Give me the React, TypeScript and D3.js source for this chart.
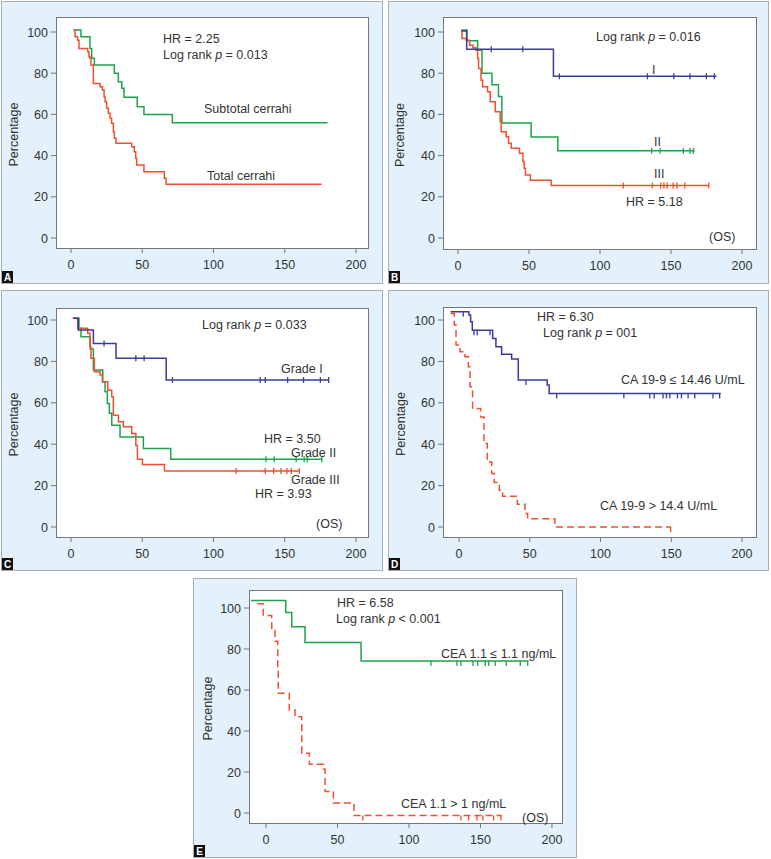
import * as d3 from "d3";

type Pt = [number, number];

const xTicks = [0, 50, 100, 150, 200];
const yTicks = [0, 20, 40, 60, 80, 100];

// A: subtotal vs total resection
const aSubtotal: Pt[] = [[2, 101], [7, 97.7], [13.3, 92], [14.5, 87.2], [16.4, 84], [30.4, 80], [33.2, 75.9], [35.6, 72.7], [37.2, 68.3], [46.5, 63.7], [51.2, 60], [71.1, 56], [180, 56]];
const aTotal: Pt[] = [[1.6, 101], [2.8, 97.7], [4.7, 96], [5.6, 92], [11.7, 90.4], [12.6, 88], [13.3, 87.2], [14, 84], [15.7, 75], [20.4, 73.4], [22, 71.8], [23.2, 68.6], [23.9, 66.2], [25, 63], [26.2, 60.5], [27.4, 58.1], [28.5, 55.7], [29.7, 51.6], [30.4, 48.4], [31.6, 46], [42.6, 44.3], [44.4, 41.9], [45.4, 38.7], [46.1, 35.4], [51.2, 32.2], [65.5, 29], [66.7, 26.1], [176, 26.1]];

// B: stage I / II / III
const bStageI: Pt[] = [[2.3, 100.5], [6.1, 91.6], [67.2, 78.5], [182, 78.5]];
const bStageICens = [23.4, 45.6, 71.4, 133.4, 152, 163.4, 174.9, 180.5];
const bStageII: Pt[] = [[2.3, 101], [6.3, 95.8], [13.8, 91.1], [16.9, 80], [23.9, 74.4], [28.5, 68.7], [30.9, 55.8], [51.5, 49], [70.3, 42.3], [166.6, 42.3]];
const bStageIICens = [136.4, 142.3, 158.7, 163.4, 165.8];
const bStageIII: Pt[] = [[2.3, 100.5], [2.8, 96.8], [5.8, 96], [8.2, 93.6], [10.5, 92.3], [12.6, 91.1], [13.8, 87.1], [14.5, 82.3], [16.2, 76.6], [17.3, 73.4], [20.8, 71], [22.7, 66.1], [26.2, 61.3], [29.7, 56.4], [30.4, 51.6], [33.9, 49.2], [35.6, 46], [37.5, 43.6], [43.3, 41.1], [45.7, 37.1], [46.6, 33.9], [47.5, 30.6], [51, 28], [65.6, 25.5], [176.6, 25.5]];
const bStageIIICens = [116.4, 136.8, 142.7, 145, 147.3, 151.5, 154.3, 159.7, 176.6];

// C: grade I / II / III
const cGradeI: Pt[] = [[1.6, 100.8], [5.1, 95.2], [15.7, 88.7], [31.6, 81.5], [66.8, 71], [180.8, 71]];
const cGradeICens = [23.2, 45.5, 51.3, 71.2, 132.8, 136.3, 152, 163.2, 175, 180.8];
const cGradeII: Pt[] = [[1.6, 100.8], [5.6, 96], [7, 91.9], [13.5, 86], [15.7, 75.8], [22.3, 70.2], [23.9, 65.3], [25.5, 59.7], [26.9, 54.9], [28.6, 49.2], [34.4, 43.5], [50.8, 37.9], [70, 32.7], [176, 32.7]];
const cGradeIICens = [136.8, 142.6, 158, 163.6, 165.8, 176];
const cGradeIII: Pt[] = [[1.2, 100.8], [4.7, 96], [11.7, 93.6], [13.3, 87.1], [14, 81.5], [16.4, 75], [20.4, 73.4], [22, 70.2], [25.8, 66.1], [28.6, 62.9], [29.7, 54], [33.3, 50.8], [36.7, 48.4], [42.6, 45.2], [45.5, 39.5], [46.6, 32.7], [50.1, 30.2], [65.6, 27.1], [160.2, 27.1]];
const cGradeIIICens = [115.9, 136.3, 142.2, 147.3, 151.5, 154.6, 160.2];

// D: CA 19-9
const dLow: Pt[] = [[-5.9, 104], [7, 102.4], [8.2, 99.2], [9.4, 95], [23.8, 91.1], [26.1, 87.1], [30.1, 83.4], [37.2, 81.1], [41.9, 71], [62.3, 68.6], [63.7, 64.5], [185, 64.5]];
const dLowCens = [3, 10.6, 12.9, 21.9, 47.3, 69, 116.5, 134.8, 137.9, 144.2, 146.6, 149, 154.4, 157.2, 161.9, 166.6, 179.5, 184.2];
const dHigh: Pt[] = [[-5.9, 103.2], [-3.3, 97.6], [-2.1, 87.9], [0.7, 84.7], [4.2, 82.2], [6.6, 77.4], [7.8, 67.7], [9.6, 57.3], [15.3, 53.2], [17.6, 40.3], [20, 31.4], [23.1, 25.8], [24.9, 21.5], [28.5, 17.8], [30.8, 14.9], [41.2, 11], [46.6, 6.5], [48.5, 4], [67.8, 0], [149.6, 0]];
const dHighCens = [149.6];

// E: CEA
const eLow: Pt[] = [[-10.5, 103.7], [13.8, 97.8], [18, 90.8], [27.3, 83.2], [66.5, 74.2], [183.6, 74.2]];
const eLowCens = [115.3, 133.5, 136.3, 144.7, 148, 153.3, 155.7, 160.3, 168, 177.8, 183];
const eHigh: Pt[] = [[-6.1, 102.1], [-1.9, 96.4], [4, 89.2], [6.3, 83.8], [8.2, 70.5], [8.6, 58.4], [16.3, 50.2], [20.3, 47], [25, 29.2], [30.3, 23.8], [40.1, 21.5], [41.3, 10.5], [47.1, 4.9], [61.6, -1.2], [165, -1.2]];
const eHighCens = [67.7, 136.3, 141.7, 147.5, 151.7, 159.2, 164.3];

const GREEN = "#1da34b";
const RED = "#f0502f";
const BLUE = "#3b3c97";
const FONT = "'Liberation Sans', Arial, sans-serif";

interface Series {
  steps: Pt[];
  cens?: number[];
  color: string;
  dashed?: boolean;
  tick?: "mid" | "down";
}
interface Note {
  x: number;
  y: number;
  text: string;
}
interface Panel {
  id: string;
  box: [number, number, number, number];
  frame: [number, number, number, number];
  xr: [number, number];
  yr: [number, number];
  pctX: number;
  series: Series[];
  notes: Note[];
}

const panels: Panel[] = [
  {
    id: "A", box: [1, 1, 382, 283], frame: [56, 17, 368, 248], xr: [71, 356], yr: [238, 32], pctX: 18,
    series: [
      { steps: aSubtotal, color: GREEN },
      { steps: aTotal, color: RED },
    ],
    notes: [
      { x: 163, y: 43, text: "HR = 2.25" },
      { x: 163, y: 59, text: "Log rank p = 0.013" },
      { x: 204, y: 113, text: "Subtotal cerrahi" },
      { x: 207, y: 180, text: "Total cerrahi" },
    ],
  },
  {
    id: "B", box: [388, 1, 768, 283], frame: [443, 17, 756, 249], xr: [458, 742], yr: [238, 32], pctX: 404,
    series: [
      { steps: bStageII, cens: bStageIICens, color: GREEN, tick: "mid" },
      { steps: bStageIII, cens: bStageIIICens, color: RED, tick: "mid" },
      { steps: bStageI, cens: bStageICens, color: BLUE, tick: "mid" },
    ],
    notes: [
      { x: 596, y: 41, text: "Log rank p = 0.016" },
      { x: 652, y: 74, text: "I" },
      { x: 654, y: 146, text: "II" },
      { x: 654, y: 178, text: "III" },
      { x: 626, y: 206, text: "HR = 5.18" },
      { x: 709, y: 241, text: "(OS)" },
    ],
  },
  {
    id: "C", box: [1, 290, 382, 570], frame: [56, 308, 368, 537], xr: [71, 356], yr: [527, 320], pctX: 18,
    series: [
      { steps: cGradeII, cens: cGradeIICens, color: GREEN, tick: "mid" },
      { steps: cGradeIII, cens: cGradeIIICens, color: RED, tick: "mid" },
      { steps: cGradeI, cens: cGradeICens, color: BLUE, tick: "mid" },
    ],
    notes: [
      { x: 202, y: 329, text: "Log rank p = 0.033" },
      { x: 281, y: 373, text: "Grade I" },
      { x: 264, y: 443, text: "HR = 3.50" },
      { x: 291, y: 457, text: "Grade II" },
      { x: 291, y: 484, text: "Grade III" },
      { x: 255, y: 498, text: "HR = 3.93" },
      { x: 316, y: 528, text: "(OS)" },
    ],
  },
  {
    id: "D", box: [388, 290, 768, 570], frame: [443, 307, 756, 537], xr: [459, 742], yr: [527, 320], pctX: 405,
    series: [
      { steps: dHigh, cens: dHighCens, color: RED, dashed: true, tick: "down" },
      { steps: dLow, cens: dLowCens, color: BLUE, tick: "down" },
    ],
    notes: [
      { x: 537, y: 321, text: "HR = 6.30" },
      { x: 543, y: 337, text: "Log rank p = 001" },
      { x: 621, y: 384, text: "CA 19-9 ≤ 14.46 U/mL" },
      { x: 600, y: 510, text: "CA 19-9 > 14.4 U/mL" },
    ],
  },
  {
    id: "E", box: [193, 578, 576, 857], frame: [249, 590, 562, 823], xr: [266, 552], yr: [813, 608], pctX: 212,
    series: [
      { steps: eHigh, cens: eHighCens, color: RED, dashed: true, tick: "down" },
      { steps: eLow, cens: eLowCens, color: GREEN, tick: "down" },
    ],
    notes: [
      { x: 337, y: 607, text: "HR = 6.58" },
      { x: 336, y: 623, text: "Log rank p < 0.001" },
      { x: 441, y: 658, text: "CEA 1.1 ≤ 1.1 ng/mL" },
      { x: 401, y: 808, text: "CEA 1.1 > 1 ng/mL" },
      { x: 522, y: 822, text: "(OS)" },
    ],
  },
];

function NoteText({ n }: { n: Note }) {
  const parts = n.text.split(/( p )/);
  return (
    <text x={n.x} y={n.y} fontSize={12.5} fill="#333" fontFamily={FONT}>
      {parts.map((p, i) =>
        p === " p " ? (
          <tspan key={i} fontStyle="italic">{p}</tspan>
        ) : (
          <tspan key={i}>{p}</tspan>
        )
      )}
    </text>
  );
}

function levelAt(steps: Pt[], t: number) {
  let v = steps[0][1];
  for (const s of steps) if (s[0] <= t) v = s[1];
  return v;
}

function KMPanel({ p }: { p: Panel }) {
  const [fx0, fy0, fx1, fy1] = p.frame;
  const [bx0, by0, bx1, by1] = p.box;
  const x = d3.scaleLinear().domain([0, 200]).range(p.xr);
  const y = d3.scaleLinear().domain([0, 100]).range(p.yr);
  const line = d3
    .line<Pt>()
    .x((d) => x(d[0]))
    .y((d) => y(d[1]))
    .curve(d3.curveStepAfter);

  return (
    <g>
      <rect x={bx0 + 0.5} y={by0 + 0.5} width={bx1 - bx0} height={by1 - by0} fill="#e2f1fb" stroke="#a8aeb3" />
      <rect x={fx0 + 0.5} y={fy0 + 0.5} width={fx1 - fx0} height={fy1 - fy0} fill="#fff" stroke="#777" />
      {yTicks.map((t) => (
        <g key={"y" + t}>
          <line x1={fx0 - 5} x2={fx0} y1={y(t)} y2={y(t)} stroke="#777" />
          <text x={fx0 - 8} y={y(t) + 4.5} textAnchor="end" fontSize={12.5} fill="#333" fontFamily={FONT}>{t}</text>
        </g>
      ))}
      {xTicks.map((t) => (
        <g key={"x" + t}>
          <line x1={x(t)} x2={x(t)} y1={fy1} y2={fy1 + 5} stroke="#777" />
          <text x={x(t)} y={fy1 + 21} textAnchor="middle" fontSize={12.5} fill="#333" fontFamily={FONT}>{t}</text>
        </g>
      ))}
      <text
        transform={`translate(${p.pctX},${(fy0 + fy1) / 2 + 2}) rotate(-90)`}
        textAnchor="middle"
        fontSize={12.5}
        fill="#333"
        fontFamily={FONT}
      >
        Percentage
      </text>
      {p.series.map((s, i) => (
        <g key={i}>
          <path
            d={line(s.steps) ?? ""}
            fill="none"
            stroke={s.color}
            strokeWidth={1.5}
            strokeDasharray={s.dashed ? "7,4" : undefined}
          />
          {(s.cens ?? []).map((c, j) => {
            const cy = y(levelAt(s.steps, c));
            const top = s.tick === "down" ? cy : cy - 3;
            const bot = s.tick === "down" ? cy + 5 : cy + 3;
            return <line key={j} x1={x(c)} x2={x(c)} y1={top} y2={bot} stroke={s.color} strokeWidth={1.3} />;
          })}
        </g>
      ))}
      {p.notes.map((n, i) => (
        <NoteText key={i} n={n} />
      ))}
      <rect x={bx0 + 1} y={by1 - 12} width={11} height={12} fill="#111" />
      <text x={bx0 + 6.5} y={by1 - 2} textAnchor="middle" fontSize={10} fontWeight="bold" fill="#fff" fontFamily={FONT}>
        {p.id}
      </text>
    </g>
  );
}

export default function App() {
  return (
    <svg width={771} height={859} style={{ position: "absolute", left: 0, top: 0, background: "#fff" }}>
      {panels.map((p) => (
        <KMPanel key={p.id} p={p} />
      ))}
    </svg>
  );
}
